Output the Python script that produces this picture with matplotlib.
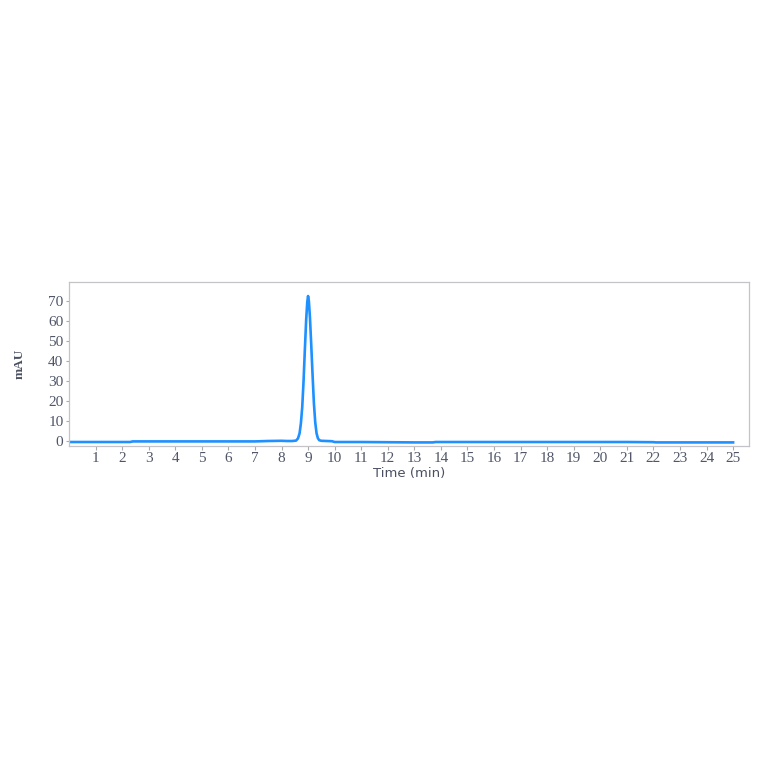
import numpy as np
import matplotlib.pyplot as plt

# chromatogram (time in min, signal in mAU)
time = [0.0, 1.0, 2.0, 2.3, 2.4, 3.0, 4.0, 5.0, 6.0, 7.0, 7.5, 8.0, 8.2, 8.4,
        8.55, 8.62, 8.68, 8.73, 8.78, 8.83, 8.88, 8.93, 8.97, 9.0, 9.03,
        9.07, 9.12, 9.17, 9.22, 9.27, 9.32, 9.37, 9.42, 9.5, 9.7, 9.9, 10.0,
        11.0, 12.0, 13.0, 13.7, 13.8, 14.0, 15.0, 16.0, 17.0, 18.0, 19.0,
        20.0, 21.0, 22.0, 22.1, 23.0, 24.0, 25.0]
signal = [-0.3, -0.3, -0.3, -0.3, 0.0, 0.0, 0.0, 0.0, 0.0, 0.0, 0.2, 0.3, 0.2, 0.2,
          0.4, 1.5, 4.0, 9.0, 17.0, 30.0, 46.0, 61.0, 69.5, 72.5, 70.0,
          62.0, 48.0, 33.0, 19.0, 9.5, 4.0, 1.6, 0.6, 0.3, 0.2, 0.1, -0.3,
          -0.3, -0.4, -0.5, -0.5, -0.3, -0.3, -0.3, -0.3, -0.3, -0.3, -0.3,
          -0.3, -0.3, -0.4, -0.5, -0.5, -0.5, -0.5]

x_ticks = list(range(1, 26))
y_ticks = [0, 10, 20, 30, 40, 50, 60, 70]

tick_color = "#505668"
serif = ["Liberation Serif", "DejaVu Serif"]

fig = plt.figure(figsize=(7.64, 7.64), dpi=100)
ax = fig.add_axes([0.0903, 0.4162, 0.8901, 0.2147])

ax.plot(time, signal, color="#1e90ff", lw=1.9)

ax.set_xlim(0, 25.6)
ax.set_ylim(-2.3, 79.5)
ax.set_xticks(x_ticks)
ax.set_yticks(y_ticks)
ax.set_xticklabels([str(t) for t in x_ticks], family=serif, fontsize=11, color=tick_color)
ax.set_yticklabels([str(t) for t in y_ticks], family=serif, fontsize=11, color=tick_color)
ax.tick_params(axis="x", length=3, width=0.8, color="#aaaaaa", pad=1.5)
ax.tick_params(axis="y", length=2, width=0.8, color="#aaaaaa", pad=2)

for s in ax.spines.values():
    s.set_color("#c4c4c8")
    s.set_linewidth(0.9)

ax.set_xlabel("Time (min)", fontsize=9.5, color="#4a5060", labelpad=1)
ax.set_ylabel("mAU", family=serif, fontsize=9.5, fontweight="bold",
              color="#4a5060", labelpad=16)

fig.savefig("out.png", dpi=100)
